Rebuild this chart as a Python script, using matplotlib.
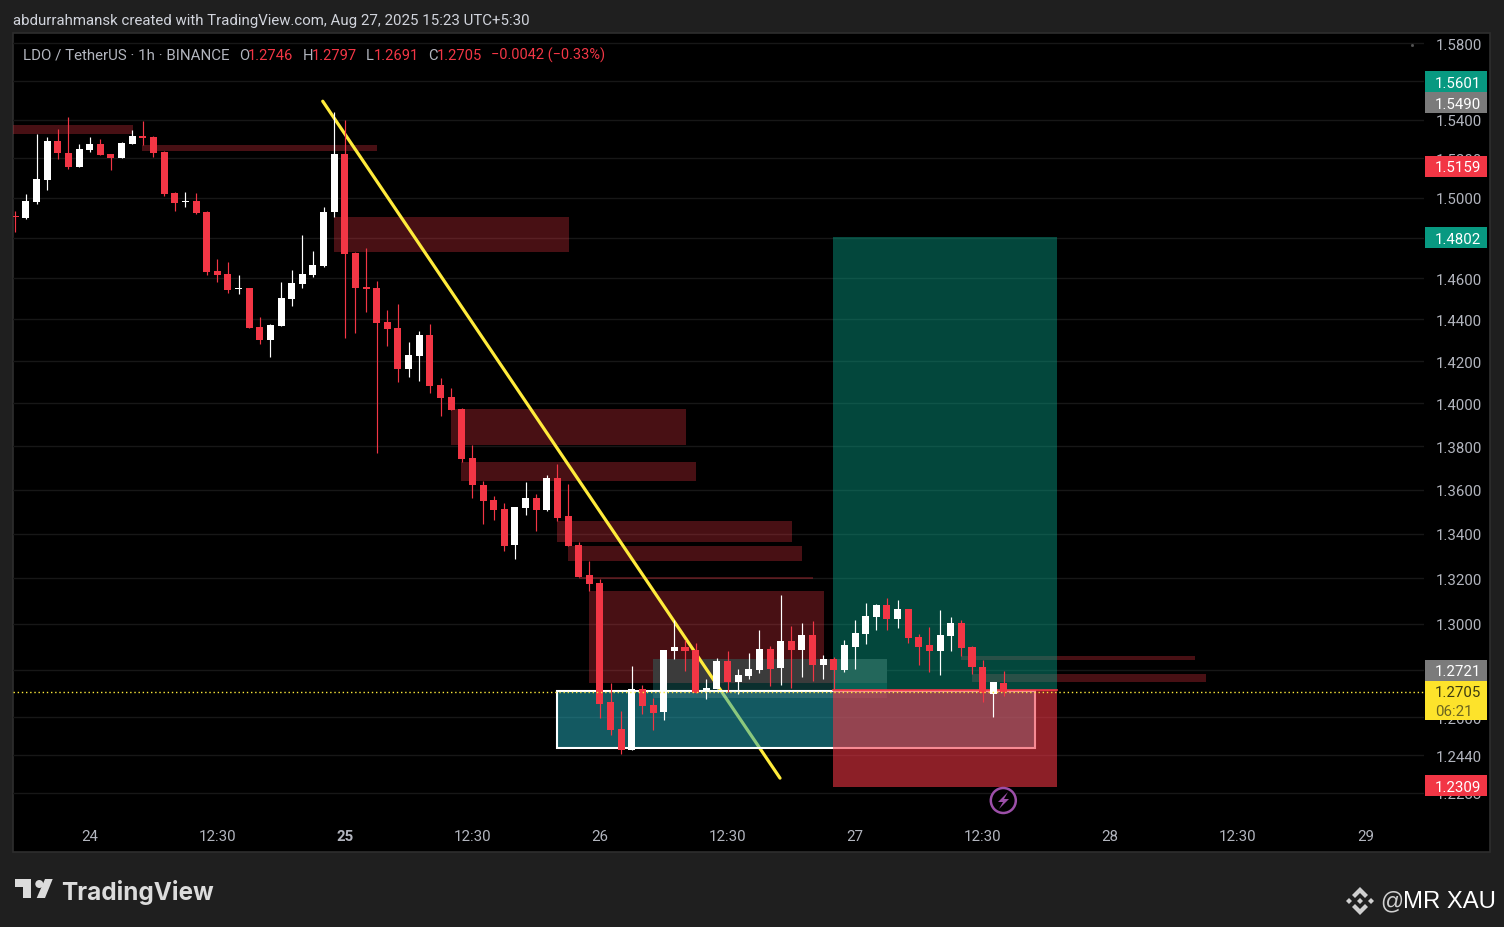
import matplotlib
matplotlib.use("Agg")
import matplotlib.pyplot as plt
from matplotlib.patches import Rectangle, Polygon, Circle
import numpy as np

plt.rcParams['font.family'] = ['Roboto', 'DejaVu Sans']

# hourly candles, LDO/USDT
opens = [1.4909,1.4899,1.4979,1.5090,1.5288,1.5227,1.5156,1.5242,1.5273,1.5222,1.5202,1.5273,1.5314,1.5309,1.5232,1.5025,1.4979,1.4984,1.4929,1.4636,
         1.4621,1.4548,1.4553,1.4363,1.4300,1.4368,1.4499,1.4572,1.4616,1.4661,1.4929,1.5222,1.4724,1.4558,1.4553,1.4388,1.4358,1.4162,1.4224,1.4325,
         1.4086,1.4029,1.3973,1.3745,1.3621,1.3552,1.3511,1.3350,1.3516,1.3561,1.3507,1.3653,1.3480,1.3350,1.3216,1.3180,1.2664,1.2550,1.2461,1.2719,
         1.2651,1.2622,1.2882,1.2900,1.2886,1.2715,1.2719,1.2839,1.2749,1.2774,1.2800,1.2890,1.2809,1.2926,1.2886,1.2952,1.2822,1.2847,1.2800,1.2900,
         1.2957,1.3031,1.3083,1.3022,1.3066,1.2943,1.2908,1.2882,1.2948,1.3004,1.2900,1.2813,1.2698,1.2746]
highs = [1.4934,1.5020,1.5325,1.5309,1.5350,1.5412,1.5273,1.5309,1.5299,1.5222,1.5283,1.5345,1.5392,1.5314,1.5237,1.5030,1.5030,1.5025,1.4934,1.4695,
         1.4680,1.4616,1.4553,1.4412,1.4378,1.4582,1.4641,1.4814,1.4734,1.4954,1.5438,1.5397,1.4729,1.4749,1.4587,1.4446,1.4475,1.4291,1.4344,1.4378,
         1.4119,1.4072,1.3978,1.3805,1.3639,1.3570,1.3539,1.3520,1.3635,1.3580,1.3667,1.3718,1.3626,1.3363,1.3278,1.3198,1.2745,1.2626,1.2817,1.2736,
         1.2680,1.2886,1.3017,1.2930,1.2917,1.2761,1.2852,1.2882,1.2805,1.2873,1.2974,1.2904,1.3127,1.2991,1.3004,1.3013,1.2865,1.2856,1.2930,1.3017,
         1.3092,1.3087,1.3114,1.3105,1.3066,1.2957,1.2987,1.3061,1.3031,1.3017,1.2904,1.2843,1.2749,1.2797]
lows = [1.4829,1.4894,1.4969,1.5040,1.5197,1.5146,1.5156,1.5232,1.5217,1.5141,1.5202,1.5273,1.5268,1.5207,1.5009,1.4934,1.4954,1.4919,1.4616,1.4582,
        1.4528,1.4523,1.4358,1.4281,1.4219,1.4368,1.4465,1.4553,1.4607,1.4656,1.4904,1.4310,1.4334,1.4436,1.3768,1.4271,1.4100,1.4124,1.4105,1.4048,
        1.3940,1.3968,1.3727,1.3561,1.3444,1.3462,1.3323,1.3287,1.3484,1.3413,1.3502,1.3458,1.3345,1.3207,1.3145,1.2596,1.2524,1.2444,1.2461,1.2613,
        1.2546,1.2588,1.2847,1.2796,1.2702,1.2676,1.2719,1.2706,1.2698,1.2761,1.2787,1.2732,1.2736,1.2723,1.2770,1.2753,1.2761,1.2719,1.2792,1.2805,
        1.2913,1.2974,1.2974,1.2982,1.2917,1.2822,1.2792,1.2779,1.2882,1.2860,1.2783,1.2664,1.2600,1.2691]
closes = [1.4904,1.4984,1.5095,1.5288,1.5227,1.5156,1.5247,1.5273,1.5217,1.5202,1.5278,1.5314,1.5304,1.5227,1.5020,1.4974,1.4984,1.4924,1.4631,1.4616,
          1.4543,1.4553,1.4358,1.4300,1.4373,1.4504,1.4577,1.4621,1.4666,1.4929,1.5222,1.4719,1.4553,1.4548,1.4383,1.4354,1.4162,1.4228,1.4325,1.4081,
          1.4024,1.3968,1.3741,1.3621,1.3548,1.3507,1.3345,1.3520,1.3561,1.3507,1.3653,1.3471,1.3345,1.3207,1.3176,1.2655,1.2546,1.2461,1.2719,1.2647,
          1.2617,1.2886,1.2900,1.2882,1.2702,1.2723,1.2839,1.2749,1.2779,1.2805,1.2890,1.2805,1.2926,1.2886,1.2952,1.2822,1.2847,1.2800,1.2908,1.2961,
          1.3035,1.3083,1.3022,1.3066,1.2939,1.2900,1.2882,1.2952,1.3004,1.2895,1.2813,1.2702,1.2749,1.2705]

# supply zones: start, end (candle index), top, bottom
zone_start = [-0.2,11.9,30,41,41.95,51,52,53,54,89,90]
zone_end = [11.07,34,52.1,63.1,64,73.05,74,75,76.05,111,112]
zone_top = [1.5371,1.5268,1.4904,1.3973,1.3727,1.3458,1.3345,1.3207,1.3145,1.2860,1.2783]
zone_bottom = [1.5325,1.5237,1.4729,1.3805,1.3639,1.3363,1.3278,1.3198,1.2745,1.2843,1.2749]

trend_x = [28.92,71.94]
trend_y = [1.5495,1.2344]

box_left, box_right = 50.96, 95.9
box_top, box_bottom = 1.2711, 1.2469
pos_left, pos_right = 76.92, 98.03
target, entry, stop = 1.4802, 1.2715, 1.2309
last_price = 1.2705

price_ticks = [1.58,1.56,1.54,1.52,1.50,1.48,1.46,1.44,1.42,1.40,1.38,1.36,1.34,1.32,1.30,1.28,1.26,1.244,1.2283]
hidden = [1.56,1.48,1.28]
time_pos = [7,19,31,43,55,67,79,91,103,115,127]
time_labels = ['24','12:30','25','12:30','26','12:30','27','12:30','28','12:30','29']

RED = '#f23645'
GREEN = '#089981'
YEL = '#ffeb3b'
GRAY = '#b2b5be'
BG = '#1f1f1f'

fig = plt.figure(figsize=(15.04,9.28), dpi=100, facecolor=BG)
fig.add_artist(Rectangle((12.5/1504,1-853/928),1477.5/1504,819/928,transform=fig.transFigure,
                         facecolor='black',edgecolor='#2e2e2e',lw=1.2,zorder=-5))

ax = fig.add_axes([13/1504,108.8/928,1411/1504,782/928])
ax.set_facecolor('none')
ax.set_yscale('log')
ax.set_xlim(-0.216,132.52)
ax.set_ylim(1.2179,1.5837)
for s in ax.spines.values():
    s.set_visible(False)
ax.yaxis.tick_right()
ax.set_yticks(price_ticks)
ax.set_yticklabels(['' if t in hidden else '%.4f' % t for t in price_ticks])
ax.minorticks_off()
ax.set_xticks(time_pos)
ax.set_xticklabels(time_labels)
ax.xaxis.get_majorticklabels()[2].set_fontweight('bold')
ax.tick_params(axis='y',length=0,pad=8.5,labelsize=10.8,labelcolor=GRAY)
ax.tick_params(axis='x',length=0,pad=8,labelsize=10.8,labelcolor=GRAY)
ax.grid(True,axis='y',color='#171717',lw=1.0,zorder=0)
ax.set_axisbelow(True)

# zones
for i in range(len(zone_start)):
    ax.add_patch(Rectangle((zone_start[i],zone_bottom[i]),zone_end[i]-zone_start[i],zone_top[i]-zone_bottom[i],
                           facecolor=RED,alpha=0.3,lw=0,zorder=1))

# grey order block, sits under the position box
ax.add_patch(Rectangle((60,1.2745),22,1.2847-1.2745,facecolor='#3b3b3b',lw=0,zorder=1.5))
ax.add_patch(Rectangle((60,1.2715),22,1.2745-1.2715,facecolor='#0b2f2e',lw=0,zorder=1.5))

ax.plot(trend_x,trend_y,color=YEL,lw=2.3,solid_capstyle='round',zorder=2)

ax.add_patch(Rectangle((box_left,box_bottom),box_right-box_left,box_top-box_bottom,
                       facecolor=(36/255,170/255,185/255,0.53),edgecolor='white',lw=1.5,zorder=2.5))
ax.add_patch(Rectangle((60,1.2680),22,box_top-1.2680,facecolor='white',alpha=0.09,lw=0,zorder=2.55))
ax.add_patch(Rectangle((pos_left,entry),pos_right-pos_left,target-entry,facecolor=GREEN,alpha=0.47,lw=0,zorder=2.6))
ax.add_patch(Rectangle((pos_left,stop),pos_right-pos_left,entry-stop,facecolor=RED,alpha=0.58,lw=0,zorder=2.6))
ax.plot([pos_left,pos_right],[entry,entry],color=RED,lw=1.2,zorder=2.7)

# candles
opens = np.array(opens)
closes = np.array(closes)
highs = np.array(highs)
lows = np.array(lows)
x = np.arange(len(opens))
colors = np.where(closes>=opens,'#ffffff',RED)
ax.vlines(x,lows,highs,colors=colors,lw=0.85,zorder=4)
tops = np.maximum(opens,closes)
bots = np.minimum(opens,closes)
ax.bar(x,tops-bots,bottom=bots,width=0.66,color=colors,lw=0,zorder=4.1)

ax.axhline(last_price,color=YEL,lw=1.0,ls=(0,(1,2)),zorder=5)

# everything else is placed in pixels on an overlay
ov = fig.add_axes([0,0,1,1],zorder=5)
ov.set_xlim(0,1504)
ov.set_ylim(928,0)
ov.axis('off')
ov.patch.set_alpha(0)

def tag(yc,h,color,txt,tcolor='white'):
    ov.add_patch(Rectangle((1425,yc-h/2),62,h,facecolor=color,lw=0))
    ov.text(1481,yc,txt,color=tcolor,fontsize=10.8,ha='right',va='center_baseline')

tag(82.5,21,GREEN,'1.5601')
tag(103.5,21,'#7b7b7b','1.5490')
tag(167,21,RED,'1.5159')
tag(238.5,21,GREEN,'1.4802')
tag(671,21,'#7b7b7b','1.2721')
ov.add_patch(Rectangle((1425,682),62,39,facecolor='#fde32b',lw=0))
ov.text(1481,692,'1.2705',color='#3c3a10',fontsize=10.8,ha='right',va='center_baseline')
ov.text(1473,711,'06:21',color='#6b6420',fontsize=10.8,ha='right',va='center_baseline')
tag(786.5,21,RED,'1.2309')

ov.text(13,19.5,'abdurrahmansk created with TradingView.com, Aug 27, 2025 15:23 UTC+5:30',
        color='#d1d4dc',fontsize=10.85,va='center_baseline')

# legend row
leg_x = [23,239,248,303,312,366,374,428,437,491]
leg_txt = ['LDO / TetherUS · 1h · BINANCE','O','1.2746','H','1.2797','L','1.2691','C','1.2705','\u22120.0042 (\u22120.33%)']
leg_col = [GRAY,GRAY,RED,GRAY,RED,GRAY,RED,GRAY,RED,RED]
leg_size = [10.9,10.6,10.6,10.6,10.6,10.6,10.6,10.6,10.6,10.45]
for i in range(len(leg_x)):
    ov.text(leg_x[i],54,leg_txt[i],color=leg_col[i],fontsize=leg_size[i],va='center_baseline')

ov.plot([1412],[46],marker='s',ms=1,color='#555555')

# alert icon
ov.add_patch(Circle((1003.3,801.5),12.5,facecolor='black',edgecolor='#9c4fa8',lw=1.8))
ov.add_patch(Polygon([(1008,793),(998,803),(1003,803),(999,810),(1009,800),(1004,800)],facecolor='#9c4fa8',lw=0))

# TradingView logo
LOGO = '#dcdcdc'
ov.add_patch(Polygon([(15,880),(31,880),(31,899),(23,899),(23,888),(15,888)],facecolor=LOGO,lw=0))
ov.add_patch(Circle((39.3,885),4,facecolor=LOGO,lw=0))
ov.add_patch(Polygon([(45,880),(52.7,880),(45,899),(36.7,899)],facecolor=LOGO,lw=0))
ov.text(61,890,'TradingView',color=LOGO,fontsize=17.5,fontweight='bold',va='center_baseline',family=['Inter','DejaVu Sans'])

# binance mark and watermark
WM = '#cfcfcf'
ov.add_patch(Polygon([(1360,888),(1368,896),(1365,899),(1360,894),(1355,899),(1352,896)],facecolor=WM,lw=0))
ov.add_patch(Polygon([(1360,916),(1368,908),(1365,905),(1360,910),(1355,905),(1352,908)],facecolor=WM,lw=0))
for c in [(1349,902),(1360,902),(1371,902)]:
    ov.add_patch(Polygon([(c[0]-3,c[1]),(c[0],c[1]-3),(c[0]+3,c[1]),(c[0],c[1]+3)],facecolor=WM,lw=0))
ov.text(1380,902,'@',color=WM,fontsize=16.5,va='center',family='Liberation Sans')
ov.text(1403,902,'MR XAU',color='white',fontsize=17.2,va='center',family='Liberation Sans')

fig.savefig('out.png',dpi=100,facecolor=BG)
